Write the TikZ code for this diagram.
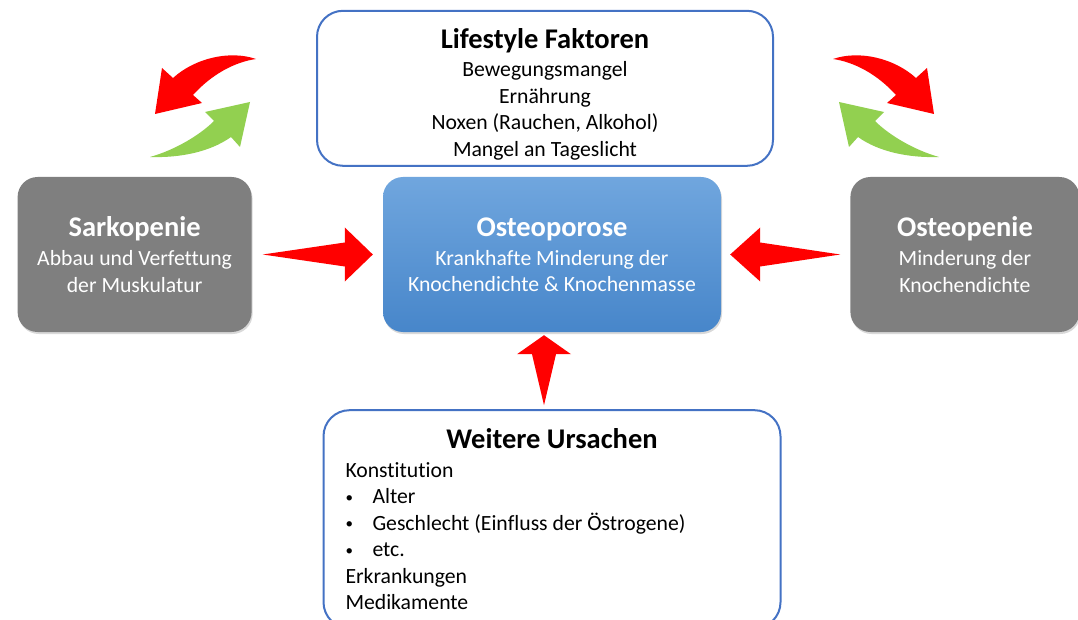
\documentclass[tikz,border=0pt]{standalone}
\usepackage{fontspec}
\setmainfont{Carlito}[Ligatures=NoCommon]
\usepackage{tikz}
\usetikzlibrary{positioning,calc,shadows}
\definecolor{boxblue}{HTML}{4472C4}
\definecolor{boxgray}{HTML}{7F7F7F}
\definecolor{osteotop}{HTML}{70A6DE}
\definecolor{osteobottom}{HTML}{4786CA}
\definecolor{arrowred}{HTML}{FF0000}
\definecolor{arrowgreen}{HTML}{92D050}
\newcommand{\titlefont}{\fontsize{28.5}{32}\selectfont\bfseries}
\newcommand{\bodyfont}{\fontsize{21.7}{26.5}\selectfont}
\newcommand{\fatarrow}[3]{%
  \coordinate (hb) at ($(#2)!#3!(#1)$);
  \fill[arrowred] (#1) -- ($(hb)!12pt!90:(#2)$) -- ($(hb)!27pt!90:(#2)$) -- (#2)
    -- ($(hb)!27pt!-90:(#2)$) -- ($(hb)!12pt!-90:(#2)$) -- cycle;}
\newcommand{\cyclearrows}{%
  \fill[arrowred] (256,59) .. controls (230,50) and (195,58) .. (173,78) -- (162,68)
    -- (155,114) -- (202,103) -- (193,95) .. controls (212,74) and (235,62) .. (256,59) -- cycle;
  \fill[arrowgreen] (150,157) .. controls (175,150) and (200,135) .. (214,121) -- (205,112)
    -- (250,102) -- (240,147) -- (231,137) .. controls (210,152) and (180,158) .. (150,157) -- cycle;}
\newcommand{\listitem}{\makebox[27pt][l]{\raisebox{1.5pt}{\fontsize{15}{15}\selectfont •}}}
\tikzstyle{infobox} = [draw=boxblue, line width=2pt, rounded corners=26pt, fill=white, align=center, font=\bodyfont]
\tikzstyle{shadowed} = [drop shadow={opacity=0.3, shadow xshift=1pt, shadow yshift=-2pt}]
\tikzstyle{graybox} = [fill=boxgray, rounded corners=20pt, text=white, align=center, font=\bodyfont, minimum height=155pt, shadowed]
\tikzstyle{bluebox} = [top color=osteotop, bottom color=osteobottom, rounded corners=20pt, text=white, align=center, font=\bodyfont, minimum height=155pt, shadowed]

\begin{document}
\begin{tikzpicture}[x=1pt, y=-1pt]
	\clip (0,0) rectangle (1078,620);
	\node (osteo) [bluebox, minimum width=338pt] at (552,254.5) {{\titlefont Osteoporose}\\[2.5pt] Krankhafte Minderung der\\ Knochendichte \& Knochenmasse};
	\node (sark) [graybox, minimum width=234pt, left=131pt of osteo] {{\titlefont Sarkopenie}\\[2.5pt] Abbau und Verfettung\\ der Muskulatur};
	\node (peni) [graybox, minimum width=229pt, right=129pt of osteo] {{\titlefont Osteopenie}\\[2.5pt] Minderung der\\ Knochendichte};
	\node (life) [infobox, minimum width=456pt, minimum height=155pt, above=10pt of osteo, xshift=-7pt] {\rule{0pt}{32pt}{\titlefont Lifestyle Faktoren}\\[1.5pt] Bewegungsmangel\\ Ernährung\\ Noxen (Rauchen, Alkohol)\\ Mangel an Tageslicht};
	\node (weitere) [infobox, minimum width=457pt, minimum height=218pt, text width=413pt, align=flush left, below=77pt of osteo] {\makebox[\linewidth]{\titlefont Weitere Ursachen}\\[2.5pt] Konstitution\\ \listitem Alter\\ \listitem Geschlecht (Einfluss der Östrogene)\\ \listitem etc.\\ Erkrankungen\\ Medikamente};
	\coordinate (sarkTail) at ($(sark.east)+(11,0)$);
	\coordinate (osteoLeft) at ($(osteo.west)+(-10,0)$);
	\coordinate (peniTail) at ($(peni.west)+(-10,0)$);
	\coordinate (osteoRight) at ($(osteo.east)+(9,0)$);
	\coordinate (weitereTail) at ($(weitere.north)+(-8,-4)$);
	\coordinate (osteoBottom) at ($(osteo.south)+(-8,3)$);
	\fatarrow{sarkTail}{osteoLeft}{28pt}
	\fatarrow{peniTail}{osteoRight}{30pt}
	\fatarrow{weitereTail}{osteoBottom}{19pt}
	\cyclearrows
	\begin{scope}[xshift=1089pt, xscale=-1]
		\cyclearrows
	\end{scope}
\end{tikzpicture}
\end{document}
